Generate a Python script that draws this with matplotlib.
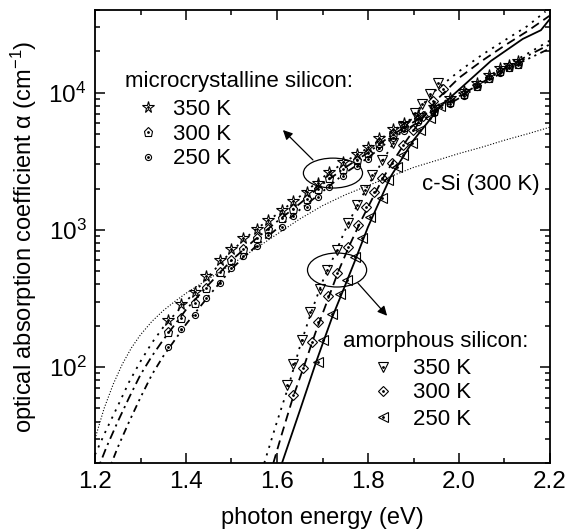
import matplotlib
matplotlib.use("Agg")
import matplotlib.pyplot as plt
from matplotlib.patches import Ellipse
from matplotlib.ticker import LogLocator, MultipleLocator, NullFormatter

plt.rcParams['font.family'] = ['Liberation Sans', 'DejaVu Sans']
plt.rcParams['mathtext.fontset'] = 'custom'
plt.rcParams['mathtext.rm'] = 'Liberation Sans'
plt.rcParams['mathtext.it'] = 'Liberation Sans:italic'
plt.rcParams['mathtext.bf'] = 'Liberation Sans:bold'

# ---------------- data ----------------
# microcrystalline silicon measurements (shared energy grid)
E_uc = [1.36, 1.39, 1.42, 1.445, 1.475, 1.50, 1.525, 1.555, 1.58, 1.61, 1.635, 1.665,
        1.69, 1.715, 1.745, 1.775, 1.80, 1.825, 1.855, 1.88, 1.91, 1.945, 1.98, 2.01,
        2.04, 2.065, 2.09, 2.11, 2.13]
uc_350 = [220, 290, 350, 460, 600, 720, 870, 1020, 1180, 1400, 1620, 1880, 2200, 2650,
          3100, 3600, 4000, 4700, 5400, 6000, 6900, 7900, 9100, 10300, 11700, 13500,
          15000, 16000, 17000]
uc_300 = [180, 228, 295, 380, 490, 600, 730, 870, 1020, 1220, 1420, 1670, 1980, 2380,
          2780, 3250, 3650, 4300, 5000, 5600, 6450, 7400, 8600, 9800, 11100, 12800,
          14300, 15300, 16300]
uc_250 = [140, 188, 238, 320, 410, 530, 640, 760, 910, 1050, 1270, 1470, 1730, 2050,
          2450, 2900, 3300, 3950, 4650, 5250, 6100, 7100, 8300, 9500, 10900, 12500,
          14000, 15000, 16000]

# microcrystalline fits
E_fit_uc = [1.20, 1.225, 1.25, 1.275, 1.30, 1.325, 1.35, 1.40, 1.45, 1.50, 1.55, 1.60,
            1.65, 1.70, 1.75, 1.80, 1.85, 1.90, 1.95, 2.00, 2.05, 2.10, 2.15, 2.20]
fit_uc_350 = [23, 35, 52, 78, 110, 150, 195, 300, 460, 700, 990, 1300, 1750, 2400,
              3150, 3950, 5200, 6500, 8000, 9900, 12300, 15500, 19200, 24000]
fit_uc_300 = [16, 26, 40, 60, 88, 120, 158, 262, 400, 600, 840, 1150, 1550, 2150,
              2850, 3650, 4850, 6100, 7600, 9400, 11800, 14900, 18500, 22500]
fit_uc_250 = [10, 16, 26, 40, 60, 88, 120, 205, 330, 520, 740, 1020, 1400, 1900,
              2600, 3350, 4550, 5800, 7300, 9100, 11400, 14400, 17500, 21000]

# crystalline silicon reference (300 K)
E_csi = [1.20, 1.22, 1.24, 1.26, 1.28, 1.30, 1.325, 1.35, 1.375, 1.40, 1.45, 1.50, 1.55,
         1.60, 1.65, 1.70, 1.75, 1.80, 1.85, 1.90, 1.95, 2.00, 2.05, 2.10, 2.15, 2.20]
csi = [30, 50, 75, 105, 138, 172, 215, 258, 300, 345, 440, 560, 720, 930, 1200, 1500,
       1800, 2100, 2450, 2850, 3200, 3600, 4000, 4500, 5000, 5600]

# amorphous silicon measurements
E_am350 = [1.622, 1.635, 1.655, 1.673, 1.695, 1.71, 1.732, 1.756, 1.776, 1.793, 1.809,
           1.831, 1.855, 1.877, 1.903, 1.919, 1.936, 1.954]
am350 = [74, 105, 157, 251, 373, 513, 716, 1125, 1518, 1950, 2506, 3214, 4300, 5600,
         7100, 8320, 9840, 11800]
E_am300 = [1.635, 1.657, 1.677, 1.69, 1.712, 1.732, 1.756, 1.778, 1.796, 1.813, 1.831,
           1.853, 1.877, 1.899, 1.921, 1.943, 1.965]
am300 = [63, 98, 152, 212, 327, 488, 753, 1087, 1469, 1884, 2383, 3061, 4131, 5310,
         6810, 8750, 10690]
E_am250 = [1.69, 1.701, 1.721, 1.738, 1.754, 1.771, 1.787, 1.804, 1.831, 1.844, 1.864,
           1.877, 1.897, 1.914, 1.936, 1.958]
am250 = [109, 157, 242, 338, 434, 637, 875, 1242, 1706, 2302, 2866, 3494, 4266, 5310,
         6485, 8050]

# amorphous fits
E_fit_a350 = [1.572, 1.60, 1.625, 1.65, 1.675, 1.70, 1.725, 1.75, 1.775, 1.80, 1.825,
              1.85, 1.875, 1.90, 1.95, 2.00, 2.05, 2.10, 2.15, 2.19]
fit_a350 = [20, 40, 72, 140, 250, 420, 640, 1000, 1480, 2100, 2900, 4000, 5400, 6900,
            10500, 14300, 18800, 24000, 30500, 39000]
E_fit_a300 = [1.592, 1.61, 1.635, 1.66, 1.685, 1.71, 1.735, 1.76, 1.785, 1.81, 1.835,
              1.86, 1.885, 1.91, 1.95, 2.00, 2.05, 2.10, 2.15, 2.20]
fit_a300 = [20, 32, 60, 103, 180, 300, 500, 780, 1170, 1700, 2450, 3350, 4500, 5900,
            8800, 12800, 17000, 22000, 28000, 36500]
E_fit_a250 = [1.611, 1.65, 1.686, 1.72, 1.745, 1.77, 1.80, 1.83, 1.85, 1.877, 1.90,
              1.93, 1.96, 2.00, 2.07, 2.14, 2.18, 2.20]
fit_a250 = [20, 48, 109, 225, 360, 580, 1050, 1750, 2450, 3400, 4500, 6000, 8000,
            10500, 17000, 24600, 28500, 34500]

temps = ["350 K", "300 K", "250 K"]

# ---------------- figure ----------------
fig = plt.figure(figsize=(5.81, 5.32), dpi=100)
ax = fig.add_axes([95 / 581, 1 - 463 / 532, 455 / 581, 453 / 532])
ax.set_yscale('log')
ax.set_xlim(1.2, 2.2)
ax.set_ylim(20, 40000)

lw = 1.3
# fits
ax.plot(E_csi, csi, color='black', lw=0.8, ls=(0, (1, 1.6)))
ax.plot(E_fit_uc, fit_uc_350, color='black', lw=lw, ls=(0, (1.2, 3.2)))
ax.plot(E_fit_uc, fit_uc_300, color='black', lw=lw, ls=(0, (5, 2.5, 1.2, 2.5)))
ax.plot(E_fit_uc, fit_uc_250, color='black', lw=lw, ls=(0, (4, 2.5, 1.2, 2.5, 1.2, 2.5)))
ax.plot(E_fit_a350, fit_a350, color='black', lw=lw, ls=(0, (1.2, 3.2)))
ax.plot(E_fit_a300, fit_a300, color='black', lw=lw, ls=(0, (5, 3)))
ax.plot(E_fit_a250, fit_a250, color='black', lw=lw, ls='-')

mk = dict(ls='none', mfc='none', mec='black', mew=0.8)
uc_markers = [('*', 8.5), ('p', 6.8), ('o', 4.4)]
am_markers = [('v', 6.8), ('D', 5.2), ('<', 6.8)]

for (m, s), E, y in zip(uc_markers, [E_uc, E_uc, E_uc], [uc_350, uc_300, uc_250]):
    ax.plot(E, y, marker=m, ms=s, **mk)
    ax.plot(E, y, ls='none', marker='o', ms=1.0, color='black')
for (m, s), E, y in zip(am_markers, [E_am350, E_am300, E_am250], [am350, am300, am250]):
    ax.plot(E, y, marker=m, ms=s, **mk)
    ax.plot(E, y, ls='none', marker='o', ms=1.0, color='black')

# ---------------- annotations ----------------
fs_leg = 16
ax.text(0.066, 0.830, "microcrystalline silicon:", transform=ax.transAxes,
        fontsize=fs_leg, va='baseline', ha='left')
for i, ((m, s), t) in enumerate(zip(uc_markers, temps)):
    ym = [0.786, 0.731, 0.675][i]
    yt = [0.769, 0.714, 0.659][i]
    ax.plot([0.1165], [ym], transform=ax.transAxes, marker=m, ms=s, **mk)
    ax.plot([0.1165], [ym], transform=ax.transAxes, marker='o', ms=1.0, color='black')
    ax.text(0.171, yt, t, transform=ax.transAxes, fontsize=fs_leg, va='baseline')

ax.text(0.545, 0.256, "amorphous silicon:", transform=ax.transAxes,
        fontsize=fs_leg, va='baseline', ha='left')
for i, ((m, s), t) in enumerate(zip(am_markers, temps)):
    ym = [0.212, 0.159, 0.1015][i]
    yt = [0.196, 0.1435, 0.084][i]
    ax.plot([0.633], [ym], transform=ax.transAxes, marker=m, ms=s, **mk)
    ax.plot([0.633], [ym], transform=ax.transAxes, marker='o', ms=1.0, color='black')
    ax.text(0.699, yt, t, transform=ax.transAxes, fontsize=fs_leg, va='baseline')

ax.text(0.719, 0.603, "c-Si (300 K)", transform=ax.transAxes, fontsize=fs_leg,
        va='baseline')

ax.add_patch(Ellipse((0.523, 0.640), 0.130, 0.066, transform=ax.transAxes,
                     fill=False, ec='black', lw=0.9))
ax.add_patch(Ellipse((0.532, 0.426), 0.130, 0.075, transform=ax.transAxes,
                     fill=False, ec='black', lw=0.9))
arrow = dict(arrowstyle='-|>', color='black', lw=0.9, mutation_scale=14,
             shrinkA=0, shrinkB=0)
ax.annotate("", xy=(0.413, 0.735), xytext=(0.479, 0.669), xycoords='axes fraction',
            textcoords='axes fraction', arrowprops=arrow)
ax.annotate("", xy=(0.642, 0.325), xytext=(0.578, 0.397), xycoords='axes fraction',
            textcoords='axes fraction', arrowprops=arrow)

# ---------------- axes styling ----------------
ax.xaxis.set_minor_locator(MultipleLocator(0.1))
ax.yaxis.set_major_locator(LogLocator(base=10, numticks=10))
ax.yaxis.set_minor_locator(LogLocator(base=10, subs=range(2, 10), numticks=10))
ax.yaxis.set_minor_formatter(NullFormatter())
ax.set_xticks([1.2, 1.4, 1.6, 1.8, 2.0, 2.2])
ax.set_xticklabels(["1.2", "1.4", "1.6", "1.8", "2.0", "2.2"])
ax.tick_params(which='both', direction='in', top=True, right=True, width=1.1,
               labelsize=17.5, pad=6)
ax.tick_params(which='major', length=7)
ax.tick_params(which='minor', length=3.5)
for sp in ax.spines.values():
    sp.set_linewidth(1.3)

ax.set_xlabel("photon energy (eV)", fontsize=17, labelpad=10)
ax.set_ylabel("optical absorption coefficient α (cm$^{-1}$)", fontsize=17, labelpad=7)

fig.savefig("out.png", dpi=100)
